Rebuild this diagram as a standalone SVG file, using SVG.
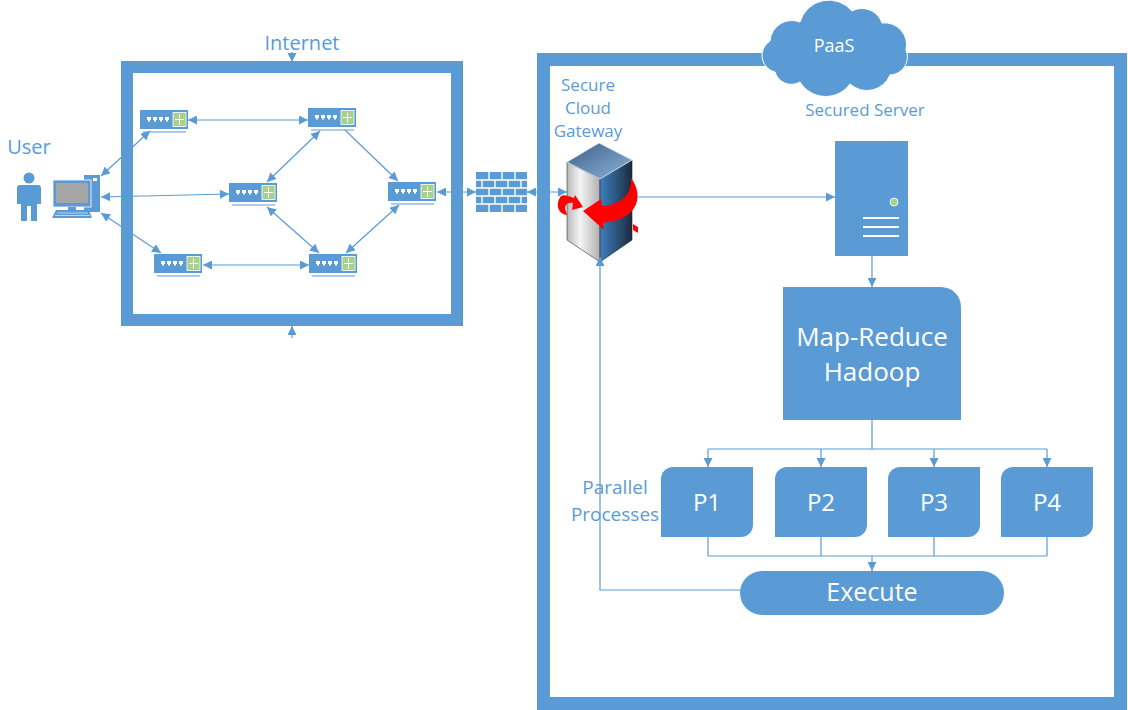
<svg xmlns="http://www.w3.org/2000/svg" width="1128" height="710" viewBox="0 0 1128 710">
  <style>
    .lbl { font-family: "Open Sans", "Noto Sans", sans-serif; fill: #5B9BD5; text-anchor: middle; }
    .wlbl { font-family: "Open Sans", "Noto Sans", sans-serif; fill: #FFFFFF; text-anchor: middle; }
    .conn { fill: none; stroke: #5B9BD5; stroke-width: 1.2; }
    .frame { fill: none; stroke: #5B9BD5; }
    .blue { fill: #5B9BD5; }
  </style>
  <defs>
    <marker id="ah" viewBox="0 0 10 10" refX="10" refY="5" markerWidth="10" markerHeight="9" orient="auto-start-reverse" markerUnits="userSpaceOnUse">
      <path d="M0,0 L10,5 L0,10 Z" fill="#5B9BD5"/>
    </marker>
    <g id="router">
      <rect x="0" y="0" width="48" height="19" fill="#5B9BD5"/>
      <line x1="3" y1="22" x2="46" y2="22" stroke="#5B9BD5" stroke-width="1"/>
      <g fill="#FFFFFF">
        <rect x="7" y="7" width="4" height="3"/><rect x="13" y="7" width="4" height="3"/>
        <rect x="19" y="7" width="4" height="3"/><rect x="25" y="7" width="4" height="3"/>
        <rect x="8" y="10" width="2" height="1.5"/><rect x="14" y="10" width="2" height="1.5"/>
        <rect x="20" y="10" width="2" height="1.5"/><rect x="26" y="10" width="2" height="1.5"/>
      </g>
      <rect x="33" y="2.5" width="13" height="14" fill="#A9D18E" stroke="#FFFFFF" stroke-width="0.8"/>
      <g stroke="#FFFFFF" stroke-width="0.9">
        <line x1="39.5" y1="4.5" x2="39.5" y2="14.5"/>
        <line x1="35" y1="9.5" x2="44" y2="9.5"/>
      </g>
    </g>
    <linearGradient id="gwTop" x1="0" y1="0" x2="1" y2="1">
      <stop offset="0" stop-color="#3F5F85"/>
      <stop offset="1" stop-color="#8DB4DD"/>
    </linearGradient>
    <linearGradient id="gwLeft" x1="0" y1="0" x2="1" y2="0">
      <stop offset="0" stop-color="#B8B8B8"/>
      <stop offset="0.4" stop-color="#F4F4F4"/>
      <stop offset="1" stop-color="#B0B0B0"/>
    </linearGradient>
    <linearGradient id="gwRight" x1="0" y1="0" x2="1" y2="0">
      <stop offset="0" stop-color="#3E7FC0"/>
      <stop offset="1" stop-color="#1C2B3E"/>
    </linearGradient>
  </defs>

  <!-- Internet network frame -->
  <g id="internet">
    <rect class="frame" x="127" y="67" width="330" height="253" stroke-width="12"/>
    <text class="lbl" x="302" y="50" font-size="20">Internet</text>
  </g>

  <!-- PaaS platform frame -->
  <g id="paas">
    <rect class="frame" x="543.5" y="59.5" width="577" height="644" stroke-width="13"/>
  </g>

  <g id="paas-cloud">
    <path class="blue" stroke="#FFFFFF" stroke-width="1" d="M775,72 A17,17 0 0 1 770,41 A22,22 0 0 1 800,22 A30,30 0 0 1 852,11 A21,21 0 0 1 882,23 A22,22 0 0 1 906,50 A18,18 0 0 1 890,75 A25,25 0 0 1 850,84 A30,30 0 0 1 800,82 A17,17 0 0 1 775,72 Z"/>
    <text class="wlbl" x="834" y="52" font-size="18">PaaS</text>
  </g>

  <!-- User and workstation -->
  <g id="user">
    <text class="lbl" x="29" y="154" font-size="20">User</text>
    <circle class="blue" cx="29" cy="178" r="5.5"/>
    <path class="blue" d="M20,185 H38 Q41,185 41,188 V204 H37 V221 H31 V206 H27 V221 H21 V204 H17 V188 Q17,185 20,185 Z"/>
  </g>
  <g id="pc">
    <rect class="blue" x="84" y="175" width="16" height="37"/>
    <rect x="93" y="178" width="4" height="3" fill="#FFFFFF"/>
    <rect class="blue" x="53" y="180" width="38" height="27" stroke="#FFFFFF" stroke-width="0.8"/>
    <rect x="56" y="183" width="32" height="20" fill="#A5A5A5"/>
    <rect class="blue" x="68" y="207" width="8" height="3"/>
    <polygon class="blue" points="56,210 89,210 92,218 52,218"/>
    <g stroke="#FFFFFF" stroke-width="0.6">
      <line x1="57" y1="213" x2="88" y2="213"/>
      <line x1="55" y1="215.5" x2="90" y2="215.5"/>
    </g>
  </g>

  <!-- Routers -->
  <g id="router1"><use href="#router" x="140" y="110"/></g>
  <g id="router2"><use href="#router" x="308" y="108"/></g>
  <g id="router3"><use href="#router" x="229" y="183"/></g>
  <g id="router4"><use href="#router" x="388" y="182"/></g>
  <g id="router5"><use href="#router" x="154" y="254"/></g>
  <g id="router6"><use href="#router" x="309" y="254"/></g>

  <!-- Firewall -->
  <g id="firewall">
    <rect class="blue" x="476" y="172" width="51" height="40"/>
    <g stroke="#FFFFFF" stroke-width="1.4">
      <line x1="476" y1="180" x2="527" y2="180"/>
      <line x1="476" y1="188" x2="527" y2="188"/>
      <line x1="476" y1="196" x2="527" y2="196"/>
      <line x1="476" y1="204" x2="527" y2="204"/>
      <line x1="489" y1="172" x2="489" y2="180"/><line x1="502" y1="172" x2="502" y2="180"/><line x1="515" y1="172" x2="515" y2="180"/>
      <line x1="482" y1="180" x2="482" y2="188"/><line x1="495" y1="180" x2="495" y2="188"/><line x1="508" y1="180" x2="508" y2="188"/><line x1="521" y1="180" x2="521" y2="188"/>
      <line x1="489" y1="188" x2="489" y2="196"/><line x1="502" y1="188" x2="502" y2="196"/><line x1="515" y1="188" x2="515" y2="196"/>
      <line x1="482" y1="196" x2="482" y2="204"/><line x1="495" y1="196" x2="495" y2="204"/><line x1="508" y1="196" x2="508" y2="204"/><line x1="521" y1="196" x2="521" y2="204"/>
      <line x1="489" y1="204" x2="489" y2="212"/><line x1="502" y1="204" x2="502" y2="212"/><line x1="515" y1="204" x2="515" y2="212"/>
    </g>
  </g>

  <!-- Secure cloud gateway -->
  <g id="gateway">
    <text class="lbl" x="588" y="91" font-size="17">Secure</text>
    <text class="lbl" x="588" y="114" font-size="17">Cloud</text>
    <text class="lbl" x="588" y="137" font-size="17">Gateway</text>
    <polygon points="567,162 600,179 600,262 567,240" fill="url(#gwLeft)" stroke="#333" stroke-width="0.6"/>
    <polygon points="600,179 632,160 632,240 600,262" fill="url(#gwRight)" stroke="#222" stroke-width="0.6"/>
    <polygon points="567,162 599,143 632,160 600,179" fill="url(#gwTop)" stroke="#DDE8F5" stroke-width="0.8"/>
    <g fill="#FF0000">
      <path d="M631,178 C642,192 641,214 614,221 L603,223 L604,230 L583,211 L601,199 L602,206 L611,205 C626,200 632,191 631,178 Z"/>
      <path d="M561,196 C555,204 558,214 567,215 L565,208 C566,203 569,202 573,203 L572,210 L583,207 L575,195 L574,198 C569,196 564,194 561,196 Z"/>
      <path d="M633,224 L638,227 L638,233 L633,230 Z"/>
    </g>
  </g>

  <!-- Secured server -->
  <g id="server">
    <text class="lbl" x="865" y="116" font-size="17">Secured Server</text>
    <rect class="blue" x="835" y="141" width="73" height="115"/>
    <circle cx="894" cy="202" r="4" fill="#A9D18E" stroke="#FFFFFF" stroke-width="0.8"/>
    <g stroke="#FFFFFF" stroke-width="2">
      <line x1="863" y1="218" x2="899" y2="218"/>
      <line x1="863" y1="227" x2="899" y2="227"/>
      <line x1="863" y1="236" x2="899" y2="236"/>
    </g>
  </g>

  <!-- Map-Reduce -->
  <g id="hadoop">
    <path class="blue" d="M783,287 H941 A20,20 0 0 1 961,307 V420 H783 Z"/>
    <text class="wlbl" x="872" y="346" font-size="26">Map-Reduce</text>
    <text class="wlbl" x="872" y="381" font-size="26">Hadoop</text>
  </g>

  <!-- Parallel processes -->
  <g id="parallel-label">
    <text class="lbl" x="615" y="494" font-size="19">Parallel</text>
    <text class="lbl" x="615" y="521" font-size="19">Processes</text>
  </g>
  <g id="p1">
    <path class="blue" d="M661,479 A12,12 0 0 1 673,467 H753 V525 A12,12 0 0 1 741,537 H661 Z"/>
    <text class="wlbl" x="707" y="511" font-size="24">P1</text>
  </g>
  <g id="p2">
    <path class="blue" d="M775,479 A12,12 0 0 1 787,467 H867 V525 A12,12 0 0 1 855,537 H775 Z"/>
    <text class="wlbl" x="821" y="511" font-size="24">P2</text>
  </g>
  <g id="p3">
    <path class="blue" d="M888,479 A12,12 0 0 1 900,467 H980 V525 A12,12 0 0 1 968,537 H888 Z"/>
    <text class="wlbl" x="934" y="511" font-size="24">P3</text>
  </g>
  <g id="p4">
    <path class="blue" d="M1001,479 A12,12 0 0 1 1013,467 H1093 V525 A12,12 0 0 1 1081,537 H1001 Z"/>
    <text class="wlbl" x="1047" y="511" font-size="24">P4</text>
  </g>

  <!-- Execute -->
  <g id="execute">
    <rect class="blue" x="740" y="571" width="264" height="44" rx="22"/>
    <text class="wlbl" x="872" y="601" font-size="25">Execute</text>
  </g>

  <!-- Connectors -->
  <g id="connectors">
    <!-- into / out of the internet cloud -->
    <line class="conn" x1="292" y1="52" x2="292" y2="62" marker-end="url(#ah)"/>
    <line class="conn" x1="292" y1="338" x2="292" y2="326" marker-end="url(#ah)"/>
    <!-- workstation to edge routers -->
    <line class="conn" x1="101" y1="176" x2="150" y2="131" marker-start="url(#ah)" marker-end="url(#ah)"/>
    <line class="conn" x1="101" y1="197" x2="229" y2="194" marker-start="url(#ah)" marker-end="url(#ah)"/>
    <line class="conn" x1="101" y1="213" x2="161" y2="253" marker-start="url(#ah)" marker-end="url(#ah)"/>
    <!-- router mesh -->
    <line class="conn" x1="188" y1="120" x2="308" y2="120" marker-start="url(#ah)" marker-end="url(#ah)"/>
    <line class="conn" x1="320" y1="131" x2="267" y2="182" marker-start="url(#ah)" marker-end="url(#ah)"/>
    <line class="conn" x1="345" y1="130" x2="398" y2="181" marker-end="url(#ah)"/>
    <line class="conn" x1="267" y1="207" x2="319" y2="253" marker-start="url(#ah)" marker-end="url(#ah)"/>
    <line class="conn" x1="346" y1="253" x2="399" y2="205" marker-start="url(#ah)" marker-end="url(#ah)"/>
    <line class="conn" x1="203" y1="265" x2="309" y2="265" marker-start="url(#ah)" marker-end="url(#ah)"/>
    <!-- router to firewall to gateway -->
    <line class="conn" x1="437" y1="192" x2="476" y2="192" marker-start="url(#ah)" marker-end="url(#ah)"/>
    <line class="conn" x1="527" y1="192" x2="567" y2="192" marker-start="url(#ah)" marker-end="url(#ah)"/>
    <!-- gateway to server to hadoop -->
    <line class="conn" x1="637" y1="197" x2="835" y2="197" marker-end="url(#ah)"/>
    <line class="conn" x1="872" y1="256" x2="872" y2="287" marker-end="url(#ah)"/>
    <!-- hadoop fan-out -->
    <path class="conn" d="M872,420 V449 M708,449 H1047"/>
    <line class="conn" x1="708" y1="449" x2="708" y2="467" marker-end="url(#ah)"/>
    <line class="conn" x1="821" y1="449" x2="821" y2="467" marker-end="url(#ah)"/>
    <line class="conn" x1="934" y1="449" x2="934" y2="467" marker-end="url(#ah)"/>
    <line class="conn" x1="1047" y1="449" x2="1047" y2="467" marker-end="url(#ah)"/>
    <!-- fan-in to execute -->
    <path class="conn" d="M708,537 V556 M821,537 V556 M934,537 V556 M1047,537 V556 M708,556 H1047"/>
    <line class="conn" x1="872" y1="556" x2="872" y2="571" marker-end="url(#ah)"/>
    <!-- execute back to gateway -->
    <path class="conn" d="M740,590 H600 V257" marker-end="url(#ah)"/>
  </g>
</svg>
